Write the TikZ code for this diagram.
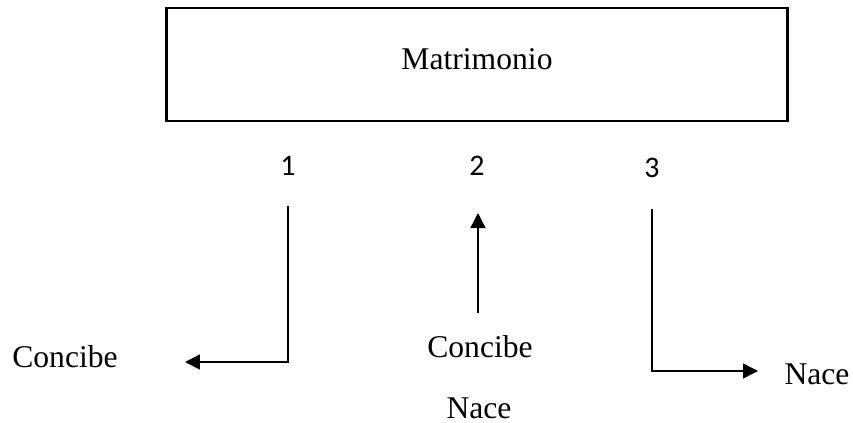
\documentclass[tikz,border=0pt]{standalone}
\usepackage{fontspec}
\setmainfont{Liberation Serif}
\newfontfamily\numfont{Carlito}
\usetikzlibrary{positioning,arrows.meta}

\begin{document}
\begin{tikzpicture}[x=0.02cm, y=-0.02cm,
      box/.style={draw, line width=1.3pt, minimum width=12.42cm, minimum height=2.26cm},
      lbl/.style={font=\fontsize{18}{22}\selectfont, inner sep=0pt, anchor=base},
      num/.style={font=\numfont\fontsize{17}{20}\selectfont, inner sep=0pt, anchor=base},
      conn/.style={line width=0.8pt},
      arr/.style={conn, -{Triangle[length=0.3cm, width=0.3cm]}}]
    \useasboundingbox (0,0) rectangle (853,423);
    \node[box] (matri) at (477,64.5) {};
    \node[lbl] (titulo) at (477,69) {Matrimonio};

    \node[num] (n1) at (288,175) {1};
    \node[num] (n2) at (477,175) {2};
    \node[num] (n3) at (652,177) {3};

    \node[lbl] (conc1) at (65,367) {Concibe};
    \node[lbl] (conc2) at (480,357) {Concibe};
    \node[lbl] (nace2) at (479,418) {Nace};
    \node[lbl] (nace3) at (817,384) {Nace};

    % free ends of the connectors
    \coordinate (a1) at (288,206);
    \coordinate (b1) at (185,362);
    \coordinate (a2) at (478,313);
    \coordinate (b2) at (478,213);
    \coordinate (a3) at (652,209);
    \coordinate (b3) at (758,371);

    \draw[arr] (a1) |- (b1);
    \draw[arr] (a2) -- (b2);
    \draw[arr] (a3) |- (b3);
  \end{tikzpicture}
\end{document}
